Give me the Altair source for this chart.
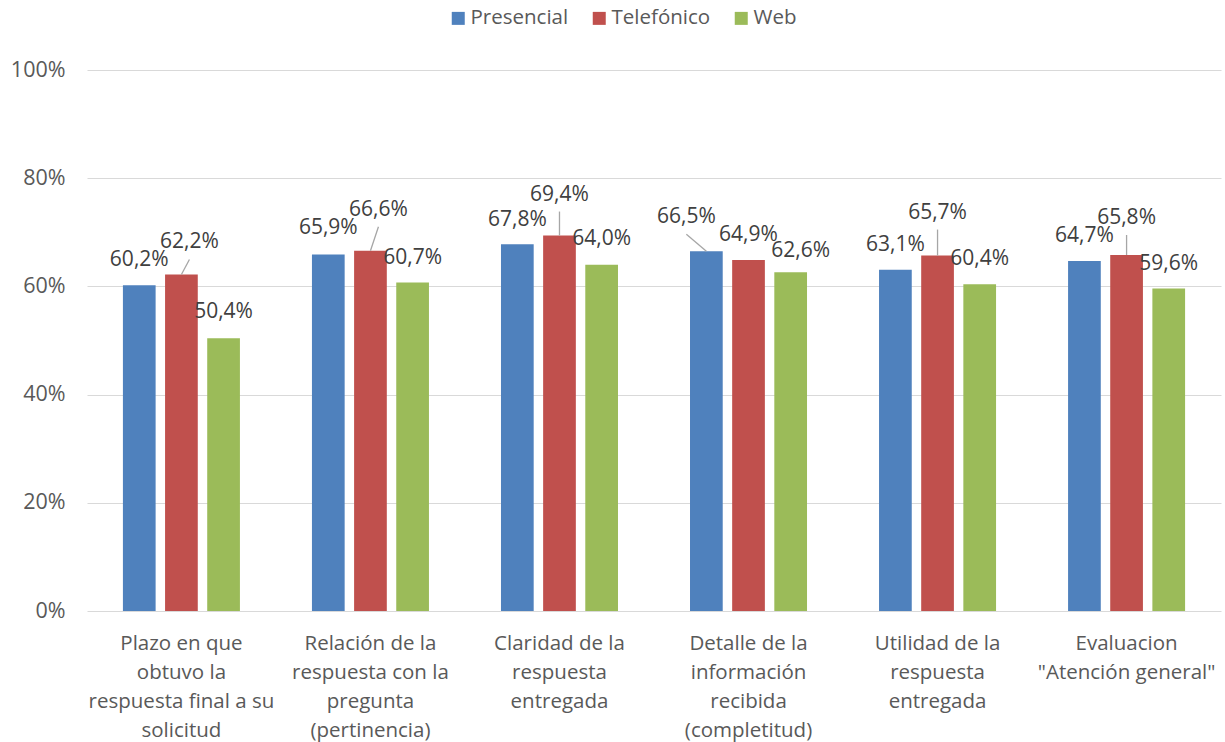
import altair as alt
import pandas as pd

CATEGORIES = [
    "Plazo en que|obtuvo la|respuesta final a su|solicitud",
    "Relación de la|respuesta con la|pregunta|(pertinencia)",
    "Claridad de la|respuesta|entregada",
    "Detalle de la|información|recibida|(completitud)",
    "Utilidad de la|respuesta|entregada",
    "Evaluacion|\"Atención general\"",
]
SERIES = ["Presencial", "Telefónico", "Web"]
PRESENCIAL = [60.2, 65.9, 67.8, 66.5, 63.1, 64.7]
TELEFONICO = [62.2, 66.6, 69.4, 64.9, 65.7, 65.8]
WEB = [50.4, 60.7, 64.0, 62.6, 60.4, 59.6]
COLORS = ["#4F81BD", "#C0504D", "#9BBB59"]
Y_TICKS = [0, 0.2, 0.4, 0.6, 0.8, 1.0]

# data-label nudges (pixels), as placed in the original
LABEL_DX = {"Presencial": [0, 0, 0, -20, 0, 0],
            "Telefónico": [8, 8, 0, 0, 0, 0],
            "Web": [0, 0, 0, 10, 0, 0]}
LABEL_DY = {"Presencial": [-25, -26, -24, -34, -25, -25],
            "Telefónico": [-32, -41, -41, -25, -43, -37],
            "Web": [-26, -25, -26, -21, -25, -25]}
LEADERS = [(0, "Telefónico"), (1, "Telefónico"), (2, "Telefónico"),
           (3, "Presencial"), (4, "Telefónico"), (5, "Telefónico")]

FONT = "Open Sans"
W, H = 1134, 541
PAD_IN, PAD_OUT = 0.381, 0.19
OFF_PAD = 0.224

rows = []
for s, vals in zip(SERIES, [PRESENCIAL, TELEFONICO, WEB]):
    for i, (c, v) in enumerate(zip(CATEGORIES, vals)):
        rows.append(dict(cat=c, serie=s, value=v / 100, idx=i,
                         label=f"{v:.1f}%".replace(".", ","),
                         dx=LABEL_DX[s][i], dy=LABEL_DY[s][i]))
df = pd.DataFrame(rows)

x_enc = alt.X("cat:N", sort=CATEGORIES,
              scale=alt.Scale(paddingInner=PAD_IN, paddingOuter=PAD_OUT),
              axis=alt.Axis(title=None, labelAngle=0,
                            labelExpr="split(datum.label, '|')",
                            labelFontSize=20.5, labelColor="#595959", labelFont=FONT,
                            labelLineHeight=29, labelPadding=38, ticks=False,
                            domain=False, labelLimit=400, labelBaseline="alphabetic"))
xo_enc = alt.XOffset("serie:N", sort=SERIES,
                     scale=alt.Scale(paddingInner=OFF_PAD, paddingOuter=0))
y_enc = alt.Y("value:Q", scale=alt.Scale(domain=[0, 1]),
              axis=alt.Axis(title=None, format=".0%", values=Y_TICKS, ticks=False,
                            domain=False, gridColor="#D9D9D9", gridWidth=1.2,
                            labelFontSize=21.5, labelColor="#595959", labelFont=FONT,
                            labelPadding=22))
color_enc = alt.Color("serie:N", sort=SERIES,
                      scale=alt.Scale(domain=SERIES, range=COLORS),
                      legend=alt.Legend(title=None, orient="none", direction="horizontal",
                                        legendX=361, legendY=-62, symbolType="square",
                                        symbolSize=169, symbolStrokeWidth=0,
                                        labelFontSize=20.5, labelColor="#595959",
                                        labelFont=FONT, columnPadding=20,
                                        labelOffset=2, padding=0))

bars = alt.Chart(df).mark_bar().encode(x=x_enc, xOffset=xo_enc, y=y_enc, color=color_enc)
layers = [bars]

# data labels
combos = sorted(set(zip(df["dx"], df["dy"])))
for dx, dy in combos:
    layers.append(
        alt.Chart(df)
        .transform_filter(f"datum.dx == {dx} && datum.dy == {dy}")
        .mark_text(dx=int(dx), dy=int(dy), fontSize=21, font=FONT, color="#404040",
                   align="center", baseline="middle")
        .encode(x=x_enc, xOffset=xo_enc, y=y_enc, text="label:N")
    )

# leader lines
band = W / (len(CATEGORIES) - PAD_IN + 2 * PAD_OUT) * (1 - PAD_IN)
sub_step = band / (len(SERIES) - OFF_PAD)
for i, s in LEADERS:
    dx = LABEL_DX[s][i]
    dy = LABEL_DY[s][i]
    shift = (SERIES.index(s) - 1) * sub_step + dx
    layers.append(
        alt.Chart(df)
        .transform_filter(f"datum.idx == {i} && datum.serie == '{s}'")
        .mark_rule(color="#A6A6A6", strokeWidth=1.3, x2Offset=shift, y2Offset=dy + 17)
        .encode(x=x_enc, xOffset=xo_enc, y=y_enc,
                x2=alt.X2("cat:N"), y2=alt.Y2("value:Q"))
    )

chart = (
    alt.layer(*layers)
    .properties(width=W, height=H, background="white",
                autosize=alt.AutoSizeParams(type="none"),
                padding={"left": 87, "top": 70, "right": 4, "bottom": 131})
    .configure_view(stroke=None)
)

chart.save("out.html", embed_options={"renderer": "svg", "actions": False})
